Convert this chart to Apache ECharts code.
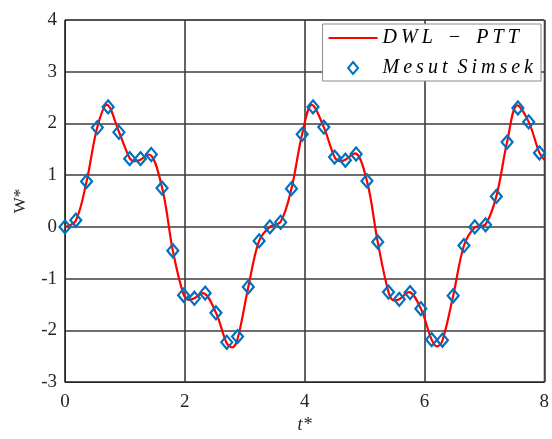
<!DOCTYPE html>
<html>
<head>
<meta charset="utf-8">
<style>
  html, body { margin: 0; padding: 0; background: #fff; }
  #chart { width: 552px; height: 439px; }
</style>
<script src="https://cdn.jsdelivr.net/npm/echarts@6/dist/echarts.min.js"></script>
</head>
<body>
<div id="chart"></div>
<script>
// Sampled solution (markers)
const sampleT = [0, 0.18, 0.36, 0.54, 0.72, 0.90, 1.08, 1.26, 1.44, 1.62, 1.80, 1.98, 2.16, 2.34, 2.52,
  2.70, 2.88, 3.06, 3.24, 3.42, 3.60, 3.78, 3.96, 4.14, 4.32, 4.50, 4.68, 4.86, 5.04, 5.22,
  5.40, 5.58, 5.76, 5.94, 6.12, 6.30, 6.48, 6.66, 6.84, 7.02, 7.20, 7.38, 7.56, 7.74, 7.92];
const sampleW = [0, 0.13, 0.88, 1.92, 2.32, 1.83, 1.32, 1.32, 1.40, 0.75, -0.46, -1.32, -1.38, -1.28, -1.66,
  -2.23, -2.12, -1.16, -0.27, 0.00, 0.09, 0.74, 1.79, 2.32, 1.93, 1.35, 1.29, 1.41, 0.89, -0.29,
  -1.26, -1.40, -1.27, -1.58, -2.18, -2.19, -1.33, -0.36, 0.00, 0.04, 0.59, 1.64, 2.30, 2.03, 1.43];

// Continuous solution (line)
const curveT = [0, 0.18, 0.36, 0.54, 0.70, 0.90, 1.08, 1.17, 1.26, 1.40, 1.62, 1.80, 1.98, 2.07, 2.16,
  2.30, 2.52, 2.70, 2.79, 2.88, 3.06, 3.24, 3.42, 3.60, 3.78, 3.96, 4.12, 4.32, 4.50, 4.59,
  4.68, 4.84, 5.04, 5.22, 5.40, 5.49, 5.58, 5.74, 5.94, 6.12, 6.21, 6.30, 6.48, 6.66, 6.84,
  7.02, 7.20, 7.38, 7.55, 7.74, 7.92, 8.00];
const curveW = [0, 0.12, 0.88, 1.93, 2.36, 1.84, 1.33, 1.27, 1.30, 1.40, 0.76, -0.46, -1.31, -1.41, -1.38,
  -1.28, -1.66, -2.25, -2.33, -2.17, -1.16, -0.27, 0.00, 0.10, 0.74, 1.80, 2.36, 1.93, 1.35, 1.27,
  1.30, 1.42, 0.89, -0.29, -1.26, -1.42, -1.40, -1.26, -1.58, -2.18, -2.31, -2.20, -1.33, -0.36, -0.01,
  0.05, 0.59, 1.64, 2.35, 2.03, 1.43, 1.30];

const xTicks = [0, 2, 4, 6, 8];
const yTicks = [-3, -2, -1, 0, 1, 2, 3, 4];

const lineName = 'D\u2009W\u2009L \u2002\u2212\u2002 P\u2009T\u2009T';
const markerName = 'M\u2009e\u2009s\u2009u\u2009t  S\u2009i\u2009m\u2009s\u2009e\u2009k';

const serif = '"Liberation Serif", "DejaVu Serif", serif';
const ink = '#262626';

const chart = echarts.init(document.getElementById('chart'), null, { renderer: 'canvas' });
chart.setOption({
  animation: false,
  backgroundColor: '#ffffff',
  grid: {
    left: 65, top: 20, width: 481, height: 366,
    show: true, borderColor: ink, borderWidth: 1, backgroundColor: 'transparent'
  },
  legend: {
    orient: 'vertical',
    right: 11, top: 24,
    backgroundColor: '#fff',
    borderColor: '#8a8a8a',
    borderWidth: 1,
    padding: [4, 8, 3, 6],
    itemWidth: 49,
    itemHeight: 12,
    itemGap: 10,
    symbolKeepAspect: true,
    textStyle: { fontFamily: serif, fontStyle: 'italic', fontSize: 20, color: '#000' },
    data: [
      { name: lineName, icon: 'path://M0,0 L49,0 L49,2.2 L0,2.2 Z' },
      { name: markerName, icon: 'path://M5,0 L10,6 L5,12 L0,6 Z' }
    ]
  },
  xAxis: {
    type: 'value', min: 0, max: 8, interval: 2,
    name: 't*', nameLocation: 'middle', nameGap: 33,
    nameTextStyle: { fontFamily: serif, fontStyle: 'italic', fontSize: 18, color: ink },
    axisLine: { show: true, onZero: false, lineStyle: { color: ink, width: 1 } },
    axisTick: { show: false },
    axisLabel: {
      fontFamily: serif, fontSize: 19, color: ink, margin: 10,
      formatter: v => xTicks.includes(v) ? String(v) : ''
    },
    splitLine: { show: true, lineStyle: { color: '#3c3c3c', width: 1.6 } }
  },
  yAxis: {
    type: 'value', min: -3, max: 4, interval: 1,
    name: 'W*', nameLocation: 'middle', nameGap: 36, nameRotate: 90,
    nameTextStyle: { fontFamily: serif, fontSize: 17, color: ink },
    axisLine: { show: true, onZero: false, lineStyle: { color: ink, width: 1 } },
    axisTick: { show: false },
    axisLabel: {
      fontFamily: serif, fontSize: 19, color: ink, margin: 8,
      formatter: v => yTicks.includes(v) ? String(v) : ''
    },
    splitLine: { show: true, lineStyle: { color: '#3c3c3c', width: 1.6 } }
  },
  series: [
    {
      name: lineName,
      type: 'line',
      data: curveT.map((t, i) => [t, curveW[i]]),
      smooth: 0.35,
      showSymbol: false,
      symbol: 'none',
      color: '#ff0000',
      itemStyle: { color: '#ff0000' },
      lineStyle: { color: '#ff0000', width: 2.2 },
      z: 3
    },
    {
      name: markerName,
      type: 'scatter',
      data: sampleT.map((t, i) => [t, sampleW[i]]),
      symbol: 'diamond',
      symbolSize: [11, 13],
      itemStyle: { color: 'rgba(255,255,255,0)', borderColor: '#0072bd', borderWidth: 2.2, opacity: 1 },
      z: 4
    }
  ]
});
</script>
</body>
</html>
